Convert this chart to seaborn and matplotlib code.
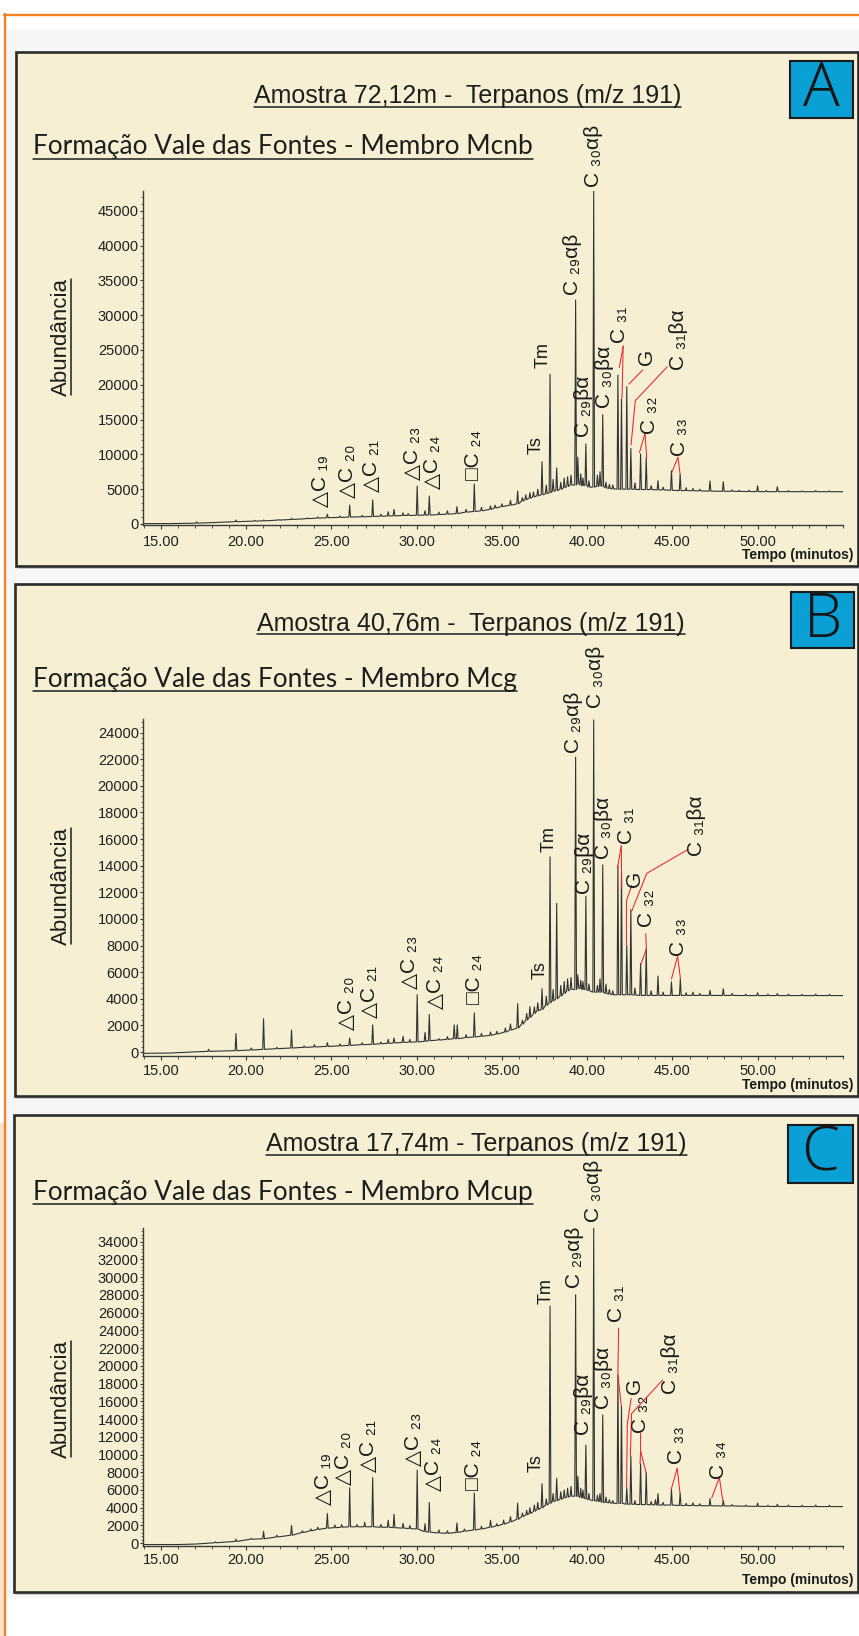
import numpy as np
import pandas as pd
import seaborn as sns
import matplotlib
matplotlib.use("Agg")
import matplotlib.pyplot as plt
from matplotlib.patches import Rectangle
from matplotlib.lines import Line2D
from matplotlib.ticker import MultipleLocator, FixedLocator, FormatStrFormatter

# ---------------------------------------------------------------- data
titles = ["Amostra 72,12m -  Terpanos (m/z 191)",
          "Amostra 40,76m -  Terpanos (m/z 191)",
          "Amostra 17,74m - Terpanos (m/z 191)"]
subtitles = ["Formação Vale das Fontes - Membro Mcnb",
             "Formação Vale das Fontes - Membro Mcg",
             "Formação Vale das Fontes - Membro Mcup"]
panel_letters = ["A", "B", "C"]
y_label = "Abundância"
x_label = "Tempo (minutos)"
x_ticks = [15, 20, 25, 30, 35, 40, 45, 50]
y_ticks_A = list(range(0, 45001, 5000))
y_ticks_B = list(range(0, 24001, 2000))
y_ticks_C = list(range(0, 34001, 2000))

# baseline knots (retention time, abundance)
base_A_t = [13.95, 15.5, 16.5, 18.3, 55.0]
base_A_v = [50, 60, 100, 230, 4640]
base_B_t = [13.95, 15.5, 16.8, 55.0]
base_B_v = [-100, -80, 0, 4240]
base_C_t = [13.95, 16.0, 17.0, 55.0]
base_C_v = [-150, -150, -100, 4130]

# peaks: retention time, apex abundance, foot abundance
peaks_A_t = [17.1, 19.4, 20.5, 21.02, 21.9, 22.66, 23.6, 24.2, 24.76, 25.5, 26.07, 26.8, 27.42, 27.9,
             28.33, 28.67, 29.2, 29.5, 30.03, 30.49, 30.74, 31.3, 31.8, 32.36, 32.9, 33.38, 33.8,
             34.33, 34.6, 35.0, 35.5, 35.92, 36.2, 36.4, 36.64, 36.85, 37.1, 37.35, 37.6, 37.82,
             38.0, 38.21, 38.45, 38.65, 38.85, 39.05, 39.32, 39.45, 39.62, 39.75, 39.92, 40.1,
             40.38, 40.6, 40.75, 40.91, 41.1, 41.3, 41.5, 41.8, 42.01, 42.32, 42.56, 42.8, 43.13,
             43.46, 43.75, 44.15, 44.45, 44.94, 45.45, 45.8, 46.2, 46.6, 47.2, 47.98, 48.5, 48.9,
             49.5, 49.99, 50.5, 51.15, 51.8, 52.6, 53.4, 54.2]
peaks_A_top = [300, 570, 520, 560, 640, 820, 880, 1000, 1390, 1150, 2730, 1250, 3450, 1400,
               1770, 2100, 1600, 1500, 5460, 1900, 4020, 1700, 1900, 2490, 2100, 5750, 2400,
               2600, 2700, 2900, 3400, 4740, 3800, 4200, 4500, 4600, 5000, 8950, 5600, 21500,
               6400, 8050, 6000, 6600, 6800, 7000, 32180, 9600, 7200, 6600, 11500, 6200,
               47800, 7000, 7500, 15700, 6000, 5700, 5600, 21400, 17960, 19730, 10870, 5900, 10060,
               9530, 5500, 6220, 5300, 7660, 7180, 5200, 5100, 5000, 6180, 6080, 4900, 4850,
               4850, 5500, 4800, 5360, 4800, 4750, 4800, 4750]
peaks_A_base = [120, 330, 420, 450, 560, 650, 770, 850, 900, 950, 1000, 1030, 1080, 1120,
                1150, 1170, 1220, 1230, 1250, 1280, 1290, 1350, 1420, 1500, 1700, 1800, 1900,
                2100, 2300, 2500, 2700, 2900, 3300, 3500, 3700, 3900, 4050, 4200, 4350, 4500,
                4700, 4800, 5000, 5200, 5400, 5600, 5600, 5800, 5600, 5500, 5600, 5300,
                5300, 5400, 5500, 5400, 5200, 5100, 5050, 5000, 5000, 5000, 5000, 4980, 4950,
                4950, 4950, 4900, 4900, 4850, 4800, 4800, 4780, 4760, 4720, 4700, 4700, 4680,
                4660, 4650, 4650, 4650, 4650, 4640, 4640, 4640]

peaks_B_t = [17.8, 19.4, 20.3, 21.02, 21.8, 22.66, 23.4, 24.0, 24.76, 25.5, 26.07, 26.8, 27.42,
             27.9, 28.33, 28.67, 29.2, 29.6, 30.03, 30.49, 30.74, 31.3, 31.8, 32.2, 32.38, 32.9,
             33.38, 33.8, 34.33, 34.7, 35.2, 35.5, 35.92, 36.2, 36.45, 36.64, 36.9, 37.1, 37.35,
             37.6, 37.82, 38.0, 38.21, 38.45, 38.65, 38.85, 39.05, 39.32, 39.45, 39.62, 39.75,
             39.92, 40.1, 40.38, 40.6, 40.75, 40.91, 41.1, 41.3, 41.5, 41.8, 42.01, 42.32, 42.56,
             42.8, 43.13, 43.46, 43.75, 44.15, 44.45, 44.94, 45.46, 45.8, 46.2, 46.6, 47.2, 47.98,
             48.5, 49.3, 49.99, 50.6, 51.15, 51.8, 52.6, 53.4, 54.2]
peaks_B_top = [200, 1390, 300, 2500, 350, 1650, 450, 550, 700, 600, 1050, 700, 2040,
               750, 950, 1050, 1180, 950, 4310, 1470, 2820, 1000, 1150, 2040, 2040, 1300,
               2940, 1400, 1500, 1550, 1800, 2100, 3640, 2400, 2900, 3410, 3400, 3700, 4750,
               4200, 14660, 4700, 11170, 5000, 5300, 5500, 5600, 22160, 5800, 5400, 5300,
               11690, 5100, 24950, 5000, 5500, 14060, 5100, 4700, 4600, 13990, 13550, 7990, 10700,
               4800, 6640, 7780, 4600, 5710, 4500, 5270, 5480, 4450, 4500, 4400, 4630, 4750,
               4400, 4350, 4450, 4350, 4400, 4350, 4330, 4350, 4330]
peaks_B_base = [50, 100, 150, 200, 250, 300, 350, 380, 420, 460, 500, 550, 580,
                620, 650, 680, 720, 740, 760, 800, 850, 900, 950, 1000, 1000, 1080,
                1130, 1180, 1250, 1350, 1500, 1650, 1800, 2100, 2400, 2600, 2900, 3100, 3200,
                3500, 3700, 3850, 4000, 4200, 4400, 4600, 4700, 4700, 4800, 4750, 4700,
                4700, 4600, 4500, 4500, 4500, 4500, 4400, 4350, 4300, 4300, 4300, 4300, 4300,
                4280, 4250, 4250, 4250, 4250, 4250, 4250, 4250, 4250, 4250, 4250, 4250, 4250,
                4250, 4240, 4240, 4240, 4240, 4240, 4240, 4240, 4240]

peaks_C_t = [18.2, 19.4, 20.3, 21.02, 21.8, 22.66, 23.3, 23.8, 24.2, 24.76, 25.2, 25.6, 26.07,
             26.5, 26.95, 27.42, 27.9, 28.33, 28.67, 29.2, 29.6, 30.03, 30.49, 30.74, 31.3, 31.8,
             32.36, 32.8, 33.38, 33.8, 34.33, 34.7, 35.1, 35.5, 35.92, 36.2, 36.45, 36.64, 36.9,
             37.1, 37.35, 37.6, 37.82, 38.0, 38.21, 38.45, 38.65, 38.85, 39.05, 39.32, 39.45,
             39.62, 39.75, 39.92, 40.1, 40.38, 40.6, 40.75, 40.91, 41.1, 41.3, 41.5, 41.8, 42.01,
             42.32, 42.56, 42.8, 43.13, 43.46, 43.75, 44.0, 44.15, 44.45, 44.94, 45.45, 45.8,
             46.2, 46.6, 47.2, 47.98, 48.5, 49.3, 49.99, 50.6, 51.15, 51.8, 52.6, 53.4, 54.2]
peaks_C_top = [150, 460, 550, 1340, 900, 2000, 1400, 1600, 1800, 3350, 2050, 2100, 6250,
               2100, 2350, 7400, 2100, 2580, 3270, 2230, 2000, 8240, 2200, 4590, 1500, 1400,
               2280, 1600, 5660, 1900, 2580, 2200, 2600, 3000, 4510, 3400, 3700, 4000, 4300,
               4600, 6710, 5000, 26750, 5600, 7320, 5800, 6000, 6200, 6400, 28020, 7550,
               6200, 6000, 11060, 5600, 35500, 5400, 5600, 14460, 5200, 4900, 4800, 18970, 15420,
               6250, 9790, 4800, 8940, 7980, 4700, 4900, 5590, 4600, 6050, 5660, 4500,
               4550, 4450, 5010, 4820, 4350, 4300, 4510, 4280, 4400, 4300, 4280, 4300, 4280]
peaks_C_base = [50, 200, 450, 500, 700, 900, 1200, 1400, 1550, 1700, 1750, 1800, 1850,
                1850, 1850, 1850, 1800, 1800, 1750, 1700, 1650, 1600, 1300, 1250, 1150, 1120,
                1200, 1350, 1500, 1600, 1800, 1950, 2150, 2400, 2700, 3000, 3200, 3350, 3600,
                3800, 4000, 4300, 4500, 4700, 4800, 4950, 5100, 5200, 5300, 5300, 5300,
                5150, 5100, 5000, 4900, 4800, 4750, 4700, 4600, 4600, 4550, 4500, 4500, 4500,
                4400, 4400, 4380, 4350, 4350, 4330, 4320, 4300, 4300, 4300, 4250, 4250,
                4250, 4230, 4220, 4200, 4200, 4170, 4150, 4150, 4140, 4140, 4130, 4130, 4130]

# peak annotations: text, retention time, abundance at the foot of the label, font size
labels_A = [("△C ₁₉", 24.35, 2500, 15), ("△C ₂₀", 25.97, 3700, 15),
            ("△C ₂₁", 27.36, 4650, 15), ("△C ₂₃", 29.74, 6300, 15),
            ("△C ₂₄", 30.95, 5100, 15), ("□C ₂₄", 33.32, 6300, 15),
            ("Ts", 37.0, 10100, 13), ("Tm", 37.42, 22400, 13),
            ("C ₂₉αβ", 39.15, 32900, 15), ("C ₂₉βα", 39.81, 12500, 15),
            ("C ₃₀αβ", 40.36, 48400, 15), ("C ₃₀βα", 41.04, 16600, 15),
            ("C ₃₁", 41.88, 26000, 15), ("G", 43.45, 22800, 15),
            ("C ₃₁βα", 45.35, 22100, 15), ("C ₃₂", 43.64, 13000, 15),
            ("C ₃₃", 45.4, 9700, 15)]
labels_B = [("△C ₂₀", 25.86, 1650, 15), ("△C ₂₁", 27.22, 2550, 15),
            ("△C ₂₃", 29.6, 4750, 15), ("△C ₂₄", 31.1, 3200, 15),
            ("□C ₂₄", 33.38, 3600, 15), ("Ts", 37.23, 5500, 13),
            ("Tm", 37.78, 15000, 13), ("C ₂₉αβ", 39.18, 22500, 15),
            ("C ₂₉βα", 39.83, 11900, 15), ("C ₃₀αβ", 40.5, 25850, 15),
            ("C ₃₀βα", 40.95, 14500, 15), ("C ₃₁", 42.31, 15600, 15),
            ("G", 42.8, 12400, 15), ("C ₃₁βα", 46.42, 14700, 15),
            ("C ₃₂", 43.49, 9400, 15), ("C ₃₃", 45.34, 7200, 15)]
labels_C = [("△C ₁₉", 24.52, 4300, 15), ("△C ₂₀", 25.69, 6600, 15),
            ("△C ₂₁", 27.16, 8000, 15), ("△C ₂₃", 29.8, 8750, 15),
            ("△C ₂₄", 31.0, 5850, 15), ("□C ₂₄", 33.36, 6050, 15),
            ("Ts", 37.03, 8000, 13), ("Tm", 37.58, 27000, 13),
            ("C ₂₉αβ", 39.28, 28800, 15), ("C ₂₉βα", 39.81, 12200, 15),
            ("C ₃₀αβ", 40.36, 36200, 15), ("C ₃₀βα", 40.95, 15100, 15),
            ("C ₃₁", 41.73, 24900, 15), ("G", 42.8, 16800, 15),
            ("C ₃₁βα", 44.89, 16800, 15), ("C ₃₂", 43.13, 12400, 15),
            ("C ₃₃", 45.25, 8900, 15), ("C ₃₄", 47.7, 7200, 15)]

# red leader lines (retention time, abundance)
leaders_A = [[(42.11, 25570), (41.88, 22500)], [(42.11, 25570), (42.04, 18060)],
             [(43.25, 22130), (42.45, 20110)],
             [(44.70, 22600), (42.82, 17720), (42.57, 11350)],
             [(43.39, 13030), (43.06, 10250)], [(43.39, 13030), (43.49, 9430)],
             [(45.32, 9580), (44.97, 7470)], [(45.32, 9580), (45.44, 7280)]]
leaders_B = [[(42.0, 15490), (41.77, 13810)], [(42.0, 15490), (42.02, 12250)],
             [(42.61, 12520), (42.3, 11350), (42.3, 7990)],
             [(45.93, 15230), (43.49, 13420), (42.61, 10580)],
             [(43.43, 8900), (43.47, 7750), (43.15, 6600)],
             [(45.3, 7210), (44.94, 5480)], [(45.3, 7210), (45.47, 5480)]]
leaders_C = [[(41.84, 24250), (41.8, 19000), (42.0, 15420)],
             [(42.58, 16340), (42.35, 13420), (42.31, 6300)],
             [(44.42, 18390), (42.6, 14620), (42.53, 9790)],
             [(43.13, 12400), (43.13, 10400), (43.45, 7980)], [(43.13, 10400), (43.1, 8940)],
             [(45.28, 8450), (44.92, 6050)], [(45.28, 8450), (45.44, 5660)],
             [(47.75, 7400), (47.3, 5100)], [(47.75, 7400), (47.95, 4820)]]

# ---------------------------------------------------------------- layout (pixels)
W, H = 859, 1636
layout = [
    dict(box=(16, 52, 858, 566), ax=(143, 191, 843, 525), ylim=(-144, 47845),
         title=(254, 103.5), sub=(33, 154.3), abund=337, tempo=555,
         letter=(790, 61, 853, 118), xpad=4.0, minor_y=1000),
    dict(box=(15, 584, 858, 1096), ax=(143, 719, 843, 1056), ylim=(-300, 25019),
         title=(257, 630.6), sub=(33, 686.7), abund=886, tempo=1085,
         letter=(791, 592, 854, 648), xpad=2.4, minor_y=400),
    dict(box=(14, 1115, 858, 1592), ax=(143, 1228, 843, 1546), ylim=(-316, 35544),
         title=(266, 1151.3), sub=(33, 1199.8), abund=1399, tempo=1580,
         letter=(788, 1125, 853, 1183), xpad=1.7, minor_y=400),
]

sns.set_theme(style="ticks")
plt.rcParams['font.family'] = ['Liberation Sans', 'DejaVu Sans']

fig = plt.figure(figsize=(W / 100, H / 100), dpi=100, facecolor='white')


def fx(x):
    return x / W


def fy(y):
    return 1 - y / H


def frect(x0, y0, x1, y1, **kw):
    r = Rectangle((fx(x0), fy(y1)), (x1 - x0) / W, (y1 - y0) / H,
                  transform=fig.transFigure, **kw)
    fig.patches.append(r)
    return r


def fline(xs, ys, **kw):
    fig.lines.append(Line2D([fx(v) for v in xs], [fy(v) for v in ys],
                            transform=fig.transFigure, **kw))


# page decorations
frect(5, 29, 859, 1598, facecolor='#f6f6f6', edgecolor='none', zorder=-10)
frect(0, 1123, 4, 1636, facecolor='#fde3cf', edgecolor='none', zorder=-10)
fline([4, 859], [14.5, 14.5], color='#f58220', lw=1.7, zorder=-9)
fline([5, 5], [14, 1636], color='#f58220', lw=1.7, zorder=-9)

traces = [(base_A_t, base_A_v, peaks_A_t, peaks_A_top, peaks_A_base),
          (base_B_t, base_B_v, peaks_B_t, peaks_B_top, peaks_B_base),
          (base_C_t, base_C_v, peaks_C_t, peaks_C_top, peaks_C_base)]
labels_all = [labels_A, labels_B, labels_C]
leaders_all = [leaders_A, leaders_B, leaders_C]
yticks_all = [y_ticks_A, y_ticks_B, y_ticks_C]

underline_jobs = []
sub_texts = []

for i, L in enumerate(layout):
    bx0, by0, bx1, by1 = L['box']
    frect(bx0 + 2, by0 + 2, bx1 + 2, by1 + 2, facecolor='none', edgecolor='#c4c4c4', lw=1.2, zorder=-8)
    frect(bx0, by0, bx1, by1, facecolor='#f6efd3', edgecolor='#2b2b2b', lw=1.9, zorder=-7)

    # letter badge
    lx0, ly0, lx1, ly1 = L['letter']
    frect(lx0, ly0, lx1, ly1, facecolor='#0a9fd5', edgecolor='#1a1a1a', lw=1.5, zorder=2)
    fig.text(fx((lx0 + lx1) / 2), fy((ly0 + ly1) / 2 + 1), panel_letters[i], ha='center', va='center',
             fontsize=44, family=['Open Sans', 'DejaVu Sans'], fontweight='light', color='#151515')

    # titles
    t1 = fig.text(fx(L['title'][0]), fy(L['title'][1]), titles[i], ha='left', va='baseline',
                  fontsize=18, color='#1e1e1e')
    underline_jobs.append((t1, L['title'][1] + 3.2, 1.1))
    t2 = fig.text(fx(L['sub'][0]), fy(L['sub'][1]), subtitles[i], ha='left', va='baseline',
                  fontsize=17, color='#1e1e1e', family=['Lato', 'DejaVu Sans'])
    sub_texts.append(t2)
    underline_jobs.append((t2, L['sub'][1] + 4.5, 1.1))

    # y label
    t3 = fig.text(fx(61.5), fy(L['abund']), y_label, rotation=90, ha='center', va='center',
                  fontsize=16, color='#1e1e1e')
    underline_jobs.append((t3, None, 1.1))
    fig.text(fx(853), fy(L['tempo']), x_label, ha='right', va='center', fontsize=10,
             fontweight='bold', color='#1a1a1a')

    # axes
    ax0, ay0, ax1, ay1 = L['ax']
    ax = fig.add_axes([fx(ax0), fy(ay1), (ax1 - ax0) / W, (ay1 - ay0) / H])
    ax.set_facecolor('none')
    ax.set_zorder(1)

    bt, bv, pt, ptop, pbase = traces[i]
    w = 0.05
    xs = list(bt)
    ys = list(bv)
    for t, top, base in zip(pt, ptop, pbase):
        xs += [t - w, t, t + w]
        ys += [base, top, base]
    order = np.argsort(xs, kind='stable')
    df = pd.DataFrame({'tempo': np.asarray(xs)[order], 'abundancia': np.asarray(ys)[order]})
    sns.lineplot(data=df, x='tempo', y='abundancia', ax=ax, sort=False, estimator=None,
                 color='#333333', linewidth=0.8)

    ax.set_xlim(13.95, 55.0)
    ax.set_ylim(*L['ylim'])
    ax.set_xlabel('')
    ax.set_ylabel('')
    for s in ['top', 'right']:
        ax.spines[s].set_visible(False)
    for s in ['left', 'bottom']:
        ax.spines[s].set_color('#3a3a3a')
        ax.spines[s].set_linewidth(1.0)
    ax.xaxis.set_major_locator(FixedLocator(x_ticks))
    ax.xaxis.set_major_formatter(FormatStrFormatter('%.2f'))
    ax.xaxis.set_minor_locator(MultipleLocator(1.0))
    ax.yaxis.set_major_locator(FixedLocator(yticks_all[i]))
    ax.yaxis.set_major_formatter(FormatStrFormatter('%d'))
    ax.yaxis.set_minor_locator(MultipleLocator(L['minor_y']))
    ax.tick_params(axis='x', which='major', direction='out', length=3.2, width=0.8,
                   color='#3a3a3a', labelsize=10.5, labelcolor='#202020', pad=L['xpad'])
    ax.tick_params(axis='x', which='minor', direction='out', length=2.0, width=0.6, color='#3a3a3a')
    ax.tick_params(axis='y', which='major', direction='out', length=2.4, width=0.8,
                   color='#3a3a3a', labelsize=10.5, labelcolor='#202020', pad=0.6)
    ax.tick_params(axis='y', which='minor', direction='out', length=1.3, width=0.5, color='#3a3a3a')

    for txt, t, y, fs in labels_all[i]:
        ax.text(t, y, txt, rotation=90, ha='center', va='bottom', fontsize=fs,
                color='#1a1a1a', clip_on=False, zorder=5,
                family=['Liberation Sans', 'DejaVu Sans'])
    for seg in leaders_all[i]:
        ax.plot([p[0] for p in seg], [p[1] for p in seg], color='#e8262d', lw=0.75,
                clip_on=False, zorder=4)

# fit subtitle width to reference (497 px) and add underlines
fig.canvas.draw()
r = fig.canvas.get_renderer()
bb = sub_texts[0].get_window_extent(r)
scale = 497.0 / bb.width
for t in sub_texts:
    t.set_fontsize(17 * scale)
fig.canvas.draw()
r = fig.canvas.get_renderer()
for t, ypx, lw in underline_jobs:
    bb = t.get_window_extent(r)
    if ypx is None:
        fline([71, 71], [H - bb.y1 + 1, H - bb.y0 - 1], color='#1e1e1e', lw=lw)
    else:
        fline([bb.x0, bb.x1], [ypx, ypx], color='#1e1e1e', lw=lw)

fig.savefig('out.png', dpi=100, facecolor='white')
